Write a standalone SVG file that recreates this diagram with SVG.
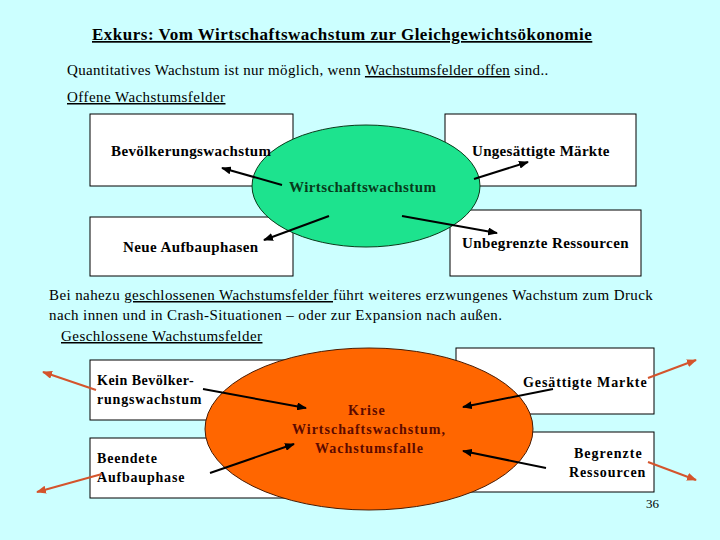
<svg xmlns="http://www.w3.org/2000/svg" width="720" height="540" viewBox="0 0 720 540">
<defs>
<marker id="ab" markerUnits="userSpaceOnUse" markerWidth="10" markerHeight="8" refX="9" refY="4" orient="auto"><path d="M0,0 L10,4 L0,8 z" fill="#000"/></marker>
<marker id="ar" markerUnits="userSpaceOnUse" markerWidth="10" markerHeight="8" refX="9" refY="4" orient="auto"><path d="M0,0 L10,4 L0,8 z" fill="#D4542C"/></marker>
</defs>
<rect x="0" y="0" width="720" height="540" fill="#CCFFFF"/>

<g id="header">
<text font-family="Liberation Serif" font-size="17" font-weight="bold" letter-spacing="0.5" text-decoration="underline" x="92" y="40">Exkurs: Vom Wirtschaftswachstum zur Gleichgewichtsökonomie</text>
<text font-family="Liberation Serif" font-size="15" letter-spacing="0.3" x="67" y="75">Quantitatives Wachstum ist nur möglich, wenn <tspan text-decoration="underline">Wachstumsfelder offen</tspan> sind..</text>
<text font-family="Liberation Serif" font-size="15" letter-spacing="0.45" text-decoration="underline" x="67" y="102">Offene Wachstumsfelder</text>
</g>

<g id="box-bevoelkerung"><rect x="90" y="114" width="203" height="72" fill="#FFFFFF" stroke="#000"/></g>
<g id="box-ungesaettigt"><rect x="445" y="114" width="191" height="72" fill="#FFFFFF" stroke="#000"/></g>
<g id="box-neue"><rect x="90" y="217" width="203" height="59" fill="#FFFFFF" stroke="#000"/></g>
<g id="box-unbegrenzt"><rect x="450" y="210" width="191" height="66" fill="#FFFFFF" stroke="#000"/></g>

<g id="node-wirtschaftswachstum"><ellipse cx="366" cy="186" rx="114" ry="61" fill="#1DE38E" stroke="#0A3A1A" stroke-width="1"/></g>

<g id="connectors-top" stroke="#000" stroke-width="2" marker-end="url(#ab)">
<line x1="282" y1="185" x2="222" y2="168"/>
<line x1="474" y1="179" x2="528" y2="162"/>
<line x1="329" y1="216" x2="264" y2="240"/>
<line x1="402" y1="216" x2="497" y2="233"/>
</g>

<g id="labels-top">
<text font-family="Liberation Serif" font-size="15" font-weight="bold" letter-spacing="0.4" x="111" y="156">Bevölkerungswachstum</text>
<text font-family="Liberation Serif" font-size="15" font-weight="bold" letter-spacing="0.3" x="472" y="156">Ungesättigte Märkte</text>
<text font-family="Liberation Serif" font-size="15" font-weight="bold" letter-spacing="0.4" x="123" y="252">Neue Aufbauphasen</text>
<text font-family="Liberation Serif" font-size="15" font-weight="bold" letter-spacing="0.4" x="462" y="248">Unbegrenzte Ressourcen</text>
<text font-family="Liberation Serif" font-size="15" font-weight="bold" letter-spacing="0.4" x="289" y="192" fill="#073B1B">Wirtschaftswachstum</text>
</g>

<g id="paragraph">
<text font-family="Liberation Serif" font-size="15" letter-spacing="0.4" x="49" y="300">Bei nahezu <tspan text-decoration="underline">geschlossenen Wachstumsfelder </tspan>führt weiteres erzwungenes Wachstum zum Druck</text>
<text font-family="Liberation Serif" font-size="15" letter-spacing="0.4" x="49" y="320">nach innen und in Crash-Situationen – oder zur Expansion nach außen.</text>
<text font-family="Liberation Serif" font-size="15" letter-spacing="0.45" text-decoration="underline" x="61" y="341">Geschlossene Wachstumsfelder</text>
</g>

<g id="box-kein"><rect x="90" y="360" width="210" height="60" fill="#FFFFFF" stroke="#000"/></g>
<g id="box-beendete"><rect x="90" y="438" width="210" height="60" fill="#FFFFFF" stroke="#000"/></g>
<g id="box-gesaettigt"><rect x="456" y="348" width="198" height="66" fill="#FFFFFF" stroke="#000"/></g>
<g id="box-begrenzt"><rect x="456" y="432" width="198" height="60" fill="#FFFFFF" stroke="#000"/></g>

<g id="node-krise"><ellipse cx="369" cy="429" rx="164" ry="81" fill="#FF6600" stroke="#4A1A00" stroke-width="1"/></g>

<g id="labels-bottom">
<text font-family="Liberation Serif" font-size="14" font-weight="bold" letter-spacing="0.5" x="97" y="385">Kein Bevölker-</text>
<text font-family="Liberation Serif" font-size="14" font-weight="bold" letter-spacing="0.8" x="97" y="404">rungswachstum</text>
<text font-family="Liberation Serif" font-size="14" font-weight="bold" letter-spacing="0.8" x="97" y="463">Beendete</text>
<text font-family="Liberation Serif" font-size="14" font-weight="bold" letter-spacing="0.8" x="97" y="482">Aufbauphase</text>
<text font-family="Liberation Serif" font-size="14" font-weight="bold" letter-spacing="0.9" x="523" y="387">Gesättigte Markte</text>
<text font-family="Liberation Serif" font-size="14" font-weight="bold" letter-spacing="1" x="574" y="458">Begrenzte</text>
<text font-family="Liberation Serif" font-size="14" font-weight="bold" letter-spacing="0.9" x="569" y="477">Ressourcen</text>
<text font-family="Liberation Serif" font-size="14" font-weight="bold" letter-spacing="1" fill="#5C0A00" x="348" y="415">Krise</text>
<text font-family="Liberation Serif" font-size="14" font-weight="bold" letter-spacing="1" fill="#5C0A00" x="292" y="434">Wirtschaftswachstum,</text>
<text font-family="Liberation Serif" font-size="14" font-weight="bold" letter-spacing="1" fill="#5C0A00" x="315" y="453">Wachstumsfalle</text>
<text font-family="Liberation Serif" font-size="13" x="646" y="508">36</text>
</g>

<g id="connectors-bottom" stroke-width="2">
<line stroke="#000" marker-end="url(#ab)" x1="203" y1="389" x2="306" y2="408"/>
<line stroke="#000" marker-end="url(#ab)" x1="210" y1="473" x2="294" y2="444"/>
<line stroke="#000" marker-end="url(#ab)" x1="553" y1="389" x2="463" y2="407"/>
<line stroke="#000" marker-end="url(#ab)" x1="546" y1="468" x2="463" y2="451"/>
<line stroke="#D4542C" marker-end="url(#ar)" x1="96" y1="390" x2="43" y2="372"/>
<line stroke="#D4542C" marker-end="url(#ar)" x1="102" y1="474" x2="37" y2="492"/>
<line stroke="#D4542C" marker-end="url(#ar)" x1="648" y1="378" x2="696" y2="360"/>
<line stroke="#D4542C" marker-end="url(#ar)" x1="648" y1="462" x2="696" y2="480"/>
</g>
</svg>
